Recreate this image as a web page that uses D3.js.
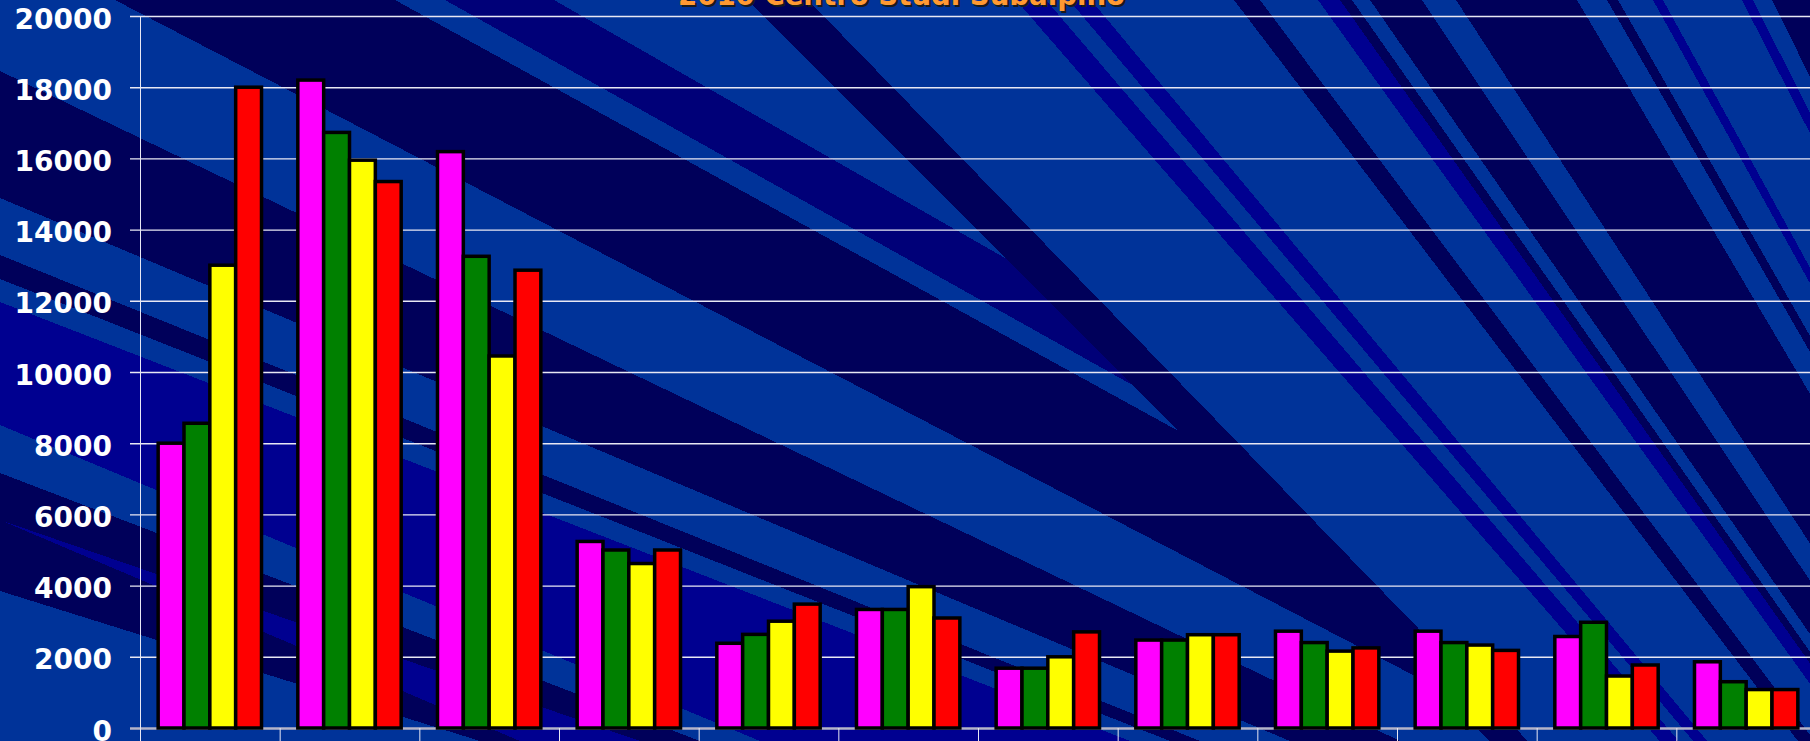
<!DOCTYPE html>
<html>
<head>
<meta charset="utf-8">
<script src="https://cdn.jsdelivr.net/npm/d3@7"></script>
<style>
  html, body { margin: 0; padding: 0; background: #00005a; overflow: hidden; }
  svg { display: block; }
</style>
</head>
<body>
<svg id="chart" width="1810" height="741"></svg>
<script>
// ---- data -------------------------------------------------------------
const categories = ["1", "2", "3", "4", "5", "6", "7", "8", "9", "10", "11", "12"];
const seriesKeys = ["s1", "s2", "s3", "s4"];
const seriesColors = ["#ff00ff", "#008000", "#ffff00", "#ff0000"];
const s1 = [8000, 18200, 16190, 5240, 2380, 3330, 1680, 2470, 2720, 2720, 2570, 1860];
const s2 = [8560, 16730, 13250, 5000, 2630, 3330, 1680, 2470, 2400, 2400, 2970, 1300];
const s3 = [13000, 15950, 10450, 4620, 3000, 3970, 2000, 2620, 2160, 2330, 1460, 1080];
const s4 = [18000, 15350, 12860, 5000, 3480, 3090, 2700, 2620, 2250, 2180, 1770, 1080];
const yTicks = [0, 2000, 4000, 6000, 8000, 10000, 12000, 14000, 16000, 18000, 20000];
const titleText = "2010  Centro Studi Subalpino";

// ---- slide backdrop: diagonal light / medium rays over dark navy -------
const W = 1810, H = 741;
const LIGHT = "#003399", MID = "#000090", DEEP = "#000078", DARK = "#00005a";
// shallow bands: polygons from the left edge towards the lower right
const shallowBands = [
  { c: MID,   p: [[0, 520], [640, 741], [520, 741]] },
  { c: LIGHT, p: [[0, 0], [115, 0], [1540, 741], [1400, 741], [0, 71]] },
  { c: LIGHT, p: [[0, 198], [1290, 741], [1200, 741], [0, 255]] },
  { c: LIGHT, p: [[0, 279], [1170, 741], [1130, 741], [0, 302]] },
  { c: MID,   p: [[0, 302], [1130, 741], [760, 741], [0, 425]] },
  { c: LIGHT, p: [[0, 425], [760, 741], [700, 741], [0, 473]] },
  { c: LIGHT, p: [[0, 591], [480, 741], [0, 741]] },
  // rays under the title
  { c: LIGHT, p: [[395, 0], [445, 0], [1768, 741], [1742, 741]] },
  { c: DEEP,  p: [[445, 0], [554, 0], [1850, 741], [1768, 741]] },
  { c: LIGHT, p: [[554, 0], [750, 0], [1012, 262]] }
];
// steep rays: [left, right] on the top edge, converging far below right
const steepFocus = [2775, 2025];
const steepBands = [
  { c: DARK,  t: [747, 808] },
  { c: LIGHT, t: [808, 1016] },
  { c: MID,   t: [1016, 1046] },
  { c: LIGHT, t: [1046, 1069] },
  { c: MID,   t: [1069, 1091] },
  { c: LIGHT, t: [1091, 1234] },
  { c: DARK,  t: [1234, 1260] },
  { c: LIGHT, t: [1260, 1318] },
  { c: MID,   t: [1318, 1340] },
  { c: LIGHT, t: [1352, 1370] },
  { c: LIGHT, t: [1422, 1456] },
  { c: LIGHT, t: [1577, 1607] },
  { c: LIGHT, t: [1618, 1653] },
  { c: MID,   t: [1653, 1663] },
  { c: LIGHT, t: [1663, 1742] },
  { c: MID,   t: [1742, 1753] },
  { c: LIGHT, t: [1753, 1772] }
];

const svg = d3.select("#chart");
svg.append("rect").attr("width", W).attr("height", H).attr("fill", DARK);
const bg = svg.append("g").attr("shape-rendering", "crispEdges");
bg.selectAll("polygon.sh").data(shallowBands).join("polygon").attr("class", "sh")
  .attr("points", d => d.p.map(q => q.join(",")).join(" "))
  .attr("fill", d => d.c);
bg.selectAll("polygon.st").data(steepBands).join("polygon").attr("class", "st")
  .attr("points", d => [[d.t[0], 0], [d.t[1], 0], steepFocus].map(q => q.join(",")).join(" "))
  .attr("fill", d => d.c);

// ---- scales -----------------------------------------------------------
const margin = { left: 140, top: 16, bottom: 728 };
const x0 = d3.scaleBand().domain(categories).range([margin.left, 1816])
  .paddingInner(0.26).paddingOuter(0.13);
const x1 = d3.scaleBand().domain(seriesKeys).range([0, x0.bandwidth()]).padding(0);
const y = d3.scaleLinear().domain([0, 20000]).range([margin.bottom, margin.top]);
const color = d3.scaleOrdinal().domain(seriesKeys).range(seriesColors);
const seriesData = [s1, s2, s3, s4];

// ---- gridlines & y axis -------------------------------------------------
const yAxis = d3.axisLeft(y).tickValues(yTicks).tickSize(-(W - margin.left)).tickPadding(0)
  .tickFormat(d3.format("d"));
const gy = svg.append("g").attr("transform", `translate(${margin.left},0)`).call(yAxis);
gy.select(".domain").remove();
gy.selectAll(".tick line")
  .attr("x1", -10)
  .attr("stroke", d => d === 0 ? "#b4b4c8" : "#e8e8f4")
  .attr("stroke-width", d => d === 0 ? 2.5 : 1.4);
gy.selectAll(".tick text")
  .attr("x", -28)
  .attr("dy", "0.43em")
  .attr("fill", "#ffffff")
  .attr("font-family", "'DejaVu Sans', Verdana, sans-serif")
  .attr("font-weight", "bold")
  .attr("font-size", 28)
  .attr("text-anchor", "end");

// vertical axis line
svg.append("line")
  .attr("x1", margin.left + 0.5).attr("x2", margin.left + 0.5)
  .attr("y1", margin.top).attr("y2", H)
  .attr("stroke", "#e8e8f4").attr("stroke-width", 1);

// category dividers below the baseline
const step = x0.step();
const dividers = d3.range(categories.length + 1).map(i => margin.left + i * step);
svg.append("g").selectAll("line").data(dividers).join("line")
  .attr("x1", d => d + 0.5).attr("x2", d => d + 0.5)
  .attr("y1", y(0)).attr("y2", H)
  .attr("stroke", "#e8e8f4").attr("stroke-width", 1);

// ---- bars -------------------------------------------------------------
const rows = categories.map((c, i) => ({
  cat: c,
  vals: seriesKeys.map((k, j) => ({ key: k, value: seriesData[j][i] }))
}));
svg.append("g").selectAll("g").data(rows).join("g")
  .attr("transform", d => `translate(${x0(d.cat)},0)`)
  .selectAll("rect").data(d => d.vals).join("rect")
  .attr("x", d => x1(d.key))
  .attr("y", d => y(d.value))
  .attr("width", x1.bandwidth())
  .attr("height", d => y(0) - y(d.value))
  .attr("fill", d => color(d.key))
  .attr("stroke", "#000000")
  .attr("stroke-width", 3.5);

// ---- title (partly above the top edge) ---------------------------------
const title = svg.append("g");
title.append("text").attr("x", 680).attr("y", 7)
  .attr("fill", "#1a1a1a")
  .attr("font-family", "'DejaVu Sans', Verdana, sans-serif")
  .attr("font-weight", "bold").attr("font-size", 27.6)
  .attr("textLength", 447).attr("lengthAdjust", "spacingAndGlyphs")
  .text(titleText);
title.append("text").attr("x", 678).attr("y", 5)
  .attr("fill", "#ff9933")
  .attr("font-family", "'DejaVu Sans', Verdana, sans-serif")
  .attr("font-weight", "bold").attr("font-size", 27.6)
  .attr("textLength", 447).attr("lengthAdjust", "spacingAndGlyphs")
  .text(titleText);
</script>
</body>
</html>
